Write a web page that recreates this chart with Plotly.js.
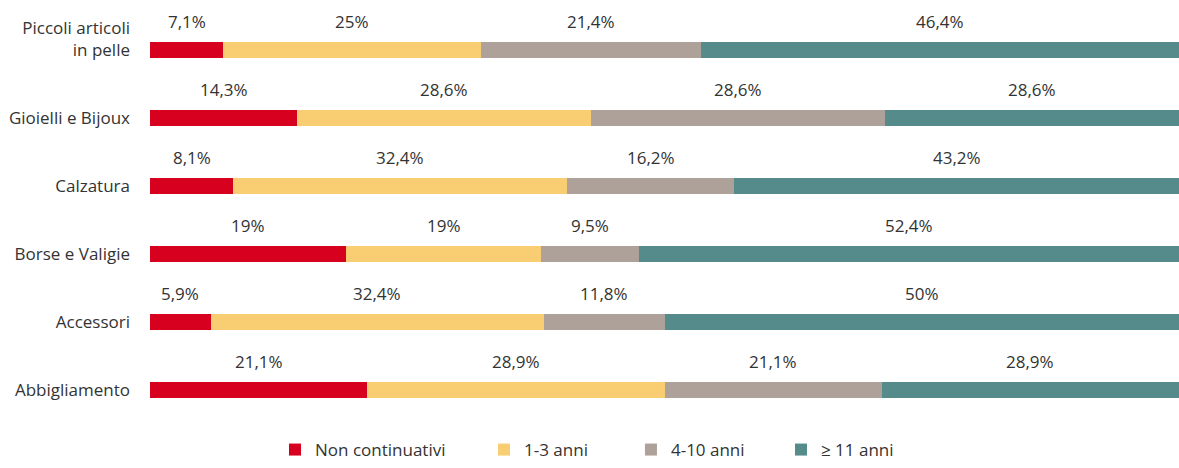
<!DOCTYPE html>
<html>
<head>
<meta charset="utf-8">
<script src="https://cdn.plot.ly/plotly-3.0.1.min.js"></script>
<style>html,body{margin:0;padding:0;background:#fff;}#chart{width:1179px;height:468px;}</style>
</head>
<body>
<div id="chart"></div>
<script>
const categories = ["Piccoli articoli in pelle", "Gioielli e Bijoux", "Calzatura", "Borse e Valigie", "Accessori", "Abbigliamento"];
const tickLabels = ["Piccoli articoli<br>in pelle<br> ", "Gioielli e Bijoux", "Calzatura", "Borse e Valigie", "Accessori", "Abbigliamento"];
const seriesNames = ["Non continuativi", "1-3 anni", "4-10 anni", "\u2265 11 anni"];
const nonContinuativi = [7.1, 14.3, 8.1, 19, 5.9, 21.1];
const anni1_3 = [25, 28.6, 32.4, 19, 32.4, 28.9];
const anni4_10 = [21.4, 28.6, 16.2, 9.5, 11.8, 21.1];
const anni11 = [46.4, 28.6, 43.2, 52.4, 50, 28.9];
const colors = ["#D7001E", "#F9CE72", "#ADA199", "#558B8B"];

const series = [nonContinuativi, anni1_3, anni4_10, anni11];
const font = {family: "Open Sans, sans-serif", size: 17, color: "#333333"};
const legendIds = ["legend", "legend2", "legend3", "legend4"];
const legendX = [0.1215, 0.3246, 0.4674, 0.6132];

const traces = series.map((vals, i) => ({
  type: "bar",
  orientation: "h",
  name: seriesNames[i],
  x: vals,
  y: categories,
  legend: legendIds[i],
  marker: {color: colors[i], line: {width: 0}},
  hoverinfo: "skip"
}));

const annotations = [];
categories.forEach((cat, r) => {
  const total = series.reduce((s, arr) => s + arr[r], 0);
  let cum = 0;
  series.forEach((arr) => {
    const v = arr[r];
    const center = (cum + v / 2) / total * 100;
    cum += v;
    annotations.push({
      x: center, y: cat, xref: "x", yref: "y",
      text: String(v).replace(".", ",") + "%",
      showarrow: false, yshift: 28, font: font
    });
  });
});

const layout = {
  width: 1179, height: 468,
  margin: {l: 150, r: 0, t: 16, b: 0},
  barmode: "stack",
  barnorm: "percent",
  bargap: 0.763,
  paper_bgcolor: "#ffffff",
  plot_bgcolor: "#ffffff",
  font: font,
  xaxis: {range: [0, 100], showgrid: false, zeroline: false, showticklabels: false, ticks: "", fixedrange: true},
  yaxis: {type: "category", categoryorder: "array", categoryarray: categories, autorange: "reversed",
          domain: [36 / 442, 1],
          tickmode: "array", tickvals: categories, ticktext: tickLabels,
          showgrid: false, zeroline: false, ticks: "", ticklabelstandoff: 19, tickfont: font},
  annotations: annotations,
  showlegend: true
};
legendIds.forEach((id, i) => {
  layout[id] = {orientation: "h", x: legendX[i], xanchor: "left", y: 0, yanchor: "bottom",
                font: font, bgcolor: "rgba(0,0,0,0)", borderwidth: 0};
});

Plotly.newPlot("chart", traces, layout, {displayModeBar: false, staticPlot: true});
</script>
</body>
</html>
